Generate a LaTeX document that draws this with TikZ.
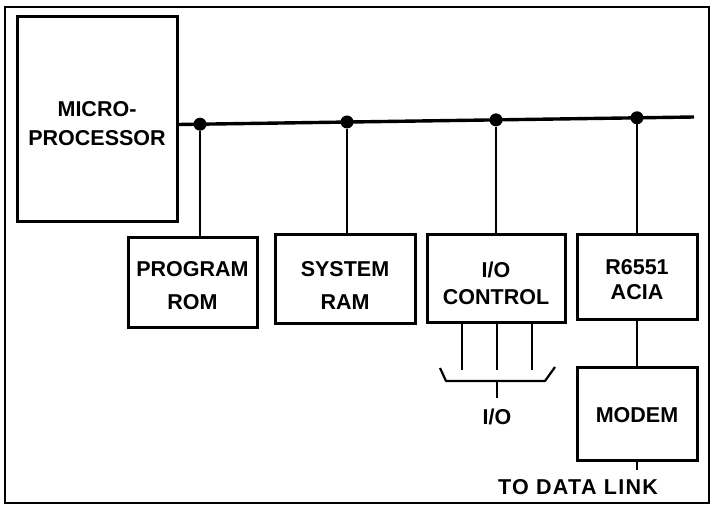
\documentclass[tikz,border=0pt]{standalone}
\usepackage{fontspec}
\setmainfont{Liberation Sans}
\begin{document}
\begin{tikzpicture}[x=1pt,y=-1pt]
\tikzset{
  blk/.style={draw, line width=3pt, inner sep=0pt, rectangle},
  lbl/.style={font=\bfseries\fontsize{21.5}{#1}\selectfont, align=center, inner sep=0pt},
  lbl/.default=29,
  wire/.style={line width=2.2pt},
  bus/.style={line width=3.4pt},
  junct/.style={circle, fill, inner sep=0pt, minimum size=13pt},
  frame/.style={line width=1.4pt}
}
\useasboundingbox (0,0) rectangle (714,510);
\draw[frame] (5,7) rectangle (709,503);

% microprocessor
\node[blk, minimum width=160pt, minimum height=205pt] (mp) at (97,119.5) {};
\node[lbl] (mpt) at (97,124) {MICRO-\\PROCESSOR};

% bus
\coordinate (busR) at (694,117);
\draw[bus] ([yshift=-5pt]mp.east) -- (busR);
\node[junct] (j1) at (200,124.2) {};
\node[junct] (j2) at (347,122.0) {};
\node[junct] (j3) at (496,119.9) {};
\node[junct] (j4) at (637,117.8) {};

% blocks
\node[blk, minimum width=129pt, minimum height=89pt] (rom) at (192.5,282.5) {};
\node[blk, minimum width=140pt, minimum height=88pt] (ram) at (345,279) {};
\node[blk, minimum width=138pt, minimum height=87pt] (ioc) at (496,278.5) {};
\node[blk, minimum width=120pt, minimum height=84pt] (acia) at (637,277) {};
\node[blk, minimum width=120pt, minimum height=93pt] (modem) at (637,413.5) {};

\node[lbl=33] (romt) at (192.5,285.5) {PROGRAM\\ROM};
\node[lbl=33] (ramt) at (345,285.5) {SYSTEM\\RAM};
\node[lbl=27] (ioct) at (496,283.5) {I/O\\CONTROL};
\node[lbl=25] (aciat) at (637,279.5) {R6551\\ACIA};
\node[lbl] (modemt) at (637,415) {MODEM};

% drops from bus
\draw[wire] (j1) -- (j1 |- rom.north);
\draw[wire] (j2) -- (j2 |- ram.north);
\draw[wire] (j3) -- (j3 |- ioc.north);
\draw[wire] (j4) -- (j4 |- acia.north);

% ACIA to modem and data link
\draw[wire] (acia.south) -- (modem.south |- modem.north);
\coordinate (dl) at (637,470);
\draw[wire] (modem.south) -- (dl);
\node[lbl] (dlt) at (578,487) {\addfontfeatures{LetterSpace=6}TO DATA LINK};

% I/O lines and bracket
\coordinate (b1) at (462,370);
\coordinate (b2) at (497,370);
\coordinate (b3) at (532,370);
\draw[wire] (b1 |- ioc.south) -- (b1);
\draw[wire] (b2 |- ioc.south) -- (b2);
\draw[wire] (b3 |- ioc.south) -- (b3);
\coordinate (bkL) at (440,368);
\coordinate (bkL2) at (446,381);
\coordinate (bkR2) at (545,381);
\coordinate (bkR) at (555,367);
\draw[wire, line join=round] (bkL) -- (bkL2) -- (bkR2) -- (bkR);
\coordinate (stemT) at (497,381);
\coordinate (stemB) at (497,398);
\draw[wire] (stemT) -- (stemB);
\node[lbl] (iot) at (497,417) {I/O};
\end{tikzpicture}
\end{document}
